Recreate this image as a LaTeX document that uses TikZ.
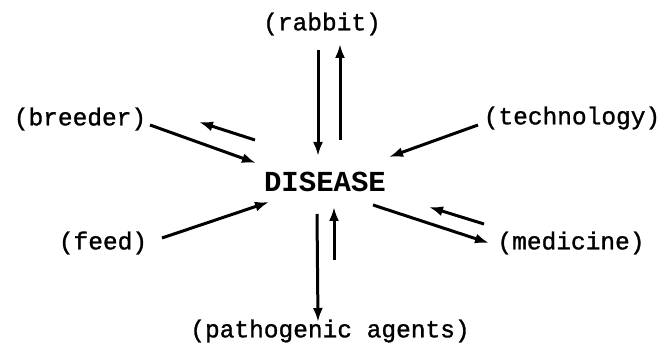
\documentclass[tikz,border=0pt]{standalone}
\usepackage{fontspec}
\setmonofont{Liberation Mono}
\newfontfamily\lblfont[FakeBold=1.2]{Liberation Mono}
\usetikzlibrary{arrows.meta}
\begin{document}
\begin{tikzpicture}[x=1pt,y=1pt,
  lbl/.style={font=\lblfont\fontsize{24.5}{28}\selectfont, inner sep=0pt},
  center/.style={font=\ttfamily\bfseries\fontsize{29}{32}\selectfont, inner sep=0pt},
  arr/.style={line width=3pt, -{Latex[length=14pt,width=10pt]}}]
\useasboundingbox (0,0) rectangle (664,-347);
\node[lbl] (rabbit) at (322,-24) {(rabbit)};
\node[lbl] (breeder) at (80,-119) {(breeder)};
\node[lbl] (tech) at (572,-118) {(technology)};
\node[lbl] (feed) at (103,-243) {(feed)};
\node[lbl] (med) at (571,-243) {(medicine)};
\node[lbl] (path) at (330,-331) {(pathogenic agents)};
\node[center] (dis) at (325,-182) {DISEASE};
% rabbit pair
\coordinate (r1) at (318,-50);  \coordinate (r2) at (318,-156);
\coordinate (r3) at (340,-140); \coordinate (r4) at (340,-44);
\draw[arr] (r1) -- (r2);
\draw[arr] (r3) -- (r4);
% pathogenic pair
\coordinate (p1) at (317,-214); \coordinate (p2) at (318,-322);
\coordinate (p3) at (334,-260); \coordinate (p4) at (334,-207);
\draw[arr] (p1) -- (p2);
\draw[arr] (p3) -- (p4);
% breeder pair
\coordinate (b1) at (150,-125); \coordinate (b2) at (256,-163);
\coordinate (b3) at (255,-140); \coordinate (b4) at (199,-122);
\draw[arr] (b1) -- (b2);
\draw[arr] (b3) -- (b4);
% feed
\coordinate (f1) at (162,-238); \coordinate (f2) at (269,-202);
\draw[arr] (f1) -- (f2);
% technology
\coordinate (t1) at (478,-125); \coordinate (t2) at (389,-157);
\draw[arr] (t1) -- (t2);
% medicine pair
\coordinate (m1) at (373,-205); \coordinate (m2) at (489,-243);
\coordinate (m3) at (484,-224); \coordinate (m4) at (429,-207);
\draw[arr] (m1) -- (m2);
\draw[arr] (m3) -- (m4);
\end{tikzpicture}
\end{document}
